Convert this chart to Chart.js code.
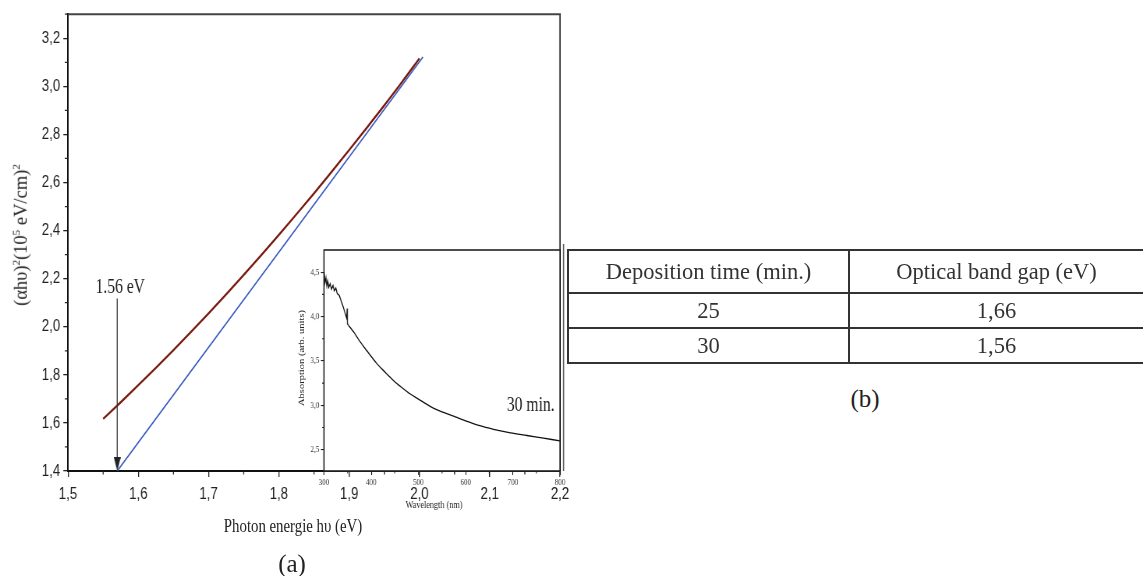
<!DOCTYPE html>
<html><head><meta charset="utf-8">
<script src="https://cdn.jsdelivr.net/npm/chart.js@4.4.1/dist/chart.umd.min.js"></script>
<style>
html,body{margin:0;padding:0;background:#fff;}
body{width:1143px;height:576px;overflow:hidden;position:relative;font-family:'Liberation Serif','Times New Roman',serif;color:#222;}
.wrap{position:absolute;transform-origin:0 0;transform:scaleX(0.78);}
#mainWrap{left:0;top:0;}
#insetWrap{left:290px;top:238px;}
.txt{position:absolute;white-space:nowrap;line-height:1;}
#ytitle{left:21px;top:235px;font-size:18.5px;transform:translate(-50%,-50%) rotate(-90deg);}
#ytitle sup{font-size:11px;vertical-align:0;position:relative;top:-7px;}
#xtitle{left:293px;top:525px;font-size:19px;transform:translate(-50%,-50%) scaleX(0.78);}
#lblA{left:292px;top:563px;font-size:25px;transform:translate(-50%,-50%);}
#lblB{left:865px;top:398px;font-size:25px;transform:translate(-50%,-50%);}
#tblBox{position:absolute;left:567px;top:249px;width:640px;}
#tbl{border-collapse:collapse;table-layout:fixed;width:620px;font-family:'Liberation Serif',serif;font-size:22.5px;color:#333;}
#tbl td{border:2px solid #333;text-align:center;padding:0;}
#tbl td span{position:relative;left:-22px;}
</style></head><body>
<div id="mainWrap" class="wrap"><canvas id="main" width="744" height="576" style="width:744px;height:576px"></canvas></div>
<div id="insetWrap" class="wrap"><canvas id="inset" width="359" height="276" style="width:359px;height:276px"></canvas></div>
<div id="ytitle" class="txt">(αhυ)<sup>2</sup>(10<sup>5</sup> eV/cm)<sup>2</sup></div>
<div id="xtitle" class="txt">Photon energie hυ (eV)</div>
<div id="lblA" class="txt">(a)</div>
<div id="lblB" class="txt">(b)</div>
<div id="tblBox">
<table id="tbl">
<colgroup><col style="width:281px"><col style="width:339px"></colgroup>
<tr style="height:43px"><td>Deposition time (min.)</td><td><span>Optical band gap (eV)</span></td></tr>
<tr style="height:35px"><td>25</td><td><span>1,66</span></td></tr>
<tr style="height:35px"><td>30</td><td><span>1,56</span></td></tr>
</table>
</div>
<script>
// ---------- data ----------
const redEnergy = [1.550,1.575,1.600,1.625,1.650,1.675,1.700,1.725,1.750,1.775,1.800,1.825,1.850,1.875,1.900,1.925,1.950,1.975,2.000];
const redValue  = [1.617,1.686,1.757,1.829,1.903,1.979,2.056,2.135,2.216,2.298,2.382,2.468,2.555,2.644,2.735,2.827,2.921,3.017,3.116];
const fitEnergy = [1.570,2.005];
const fitValue  = [1.400,3.122];
const gapEnergy = [1.570,1.570];
const gapValue  = [2.118,1.429];
const gapLabel  = '1.56 eV';

const noisyWavelength = [300,302,304,306,308,310,313,316,319,322,325,328,332,336,340,344,348,349,349.5,352];
const noisyAbsorption = [4.50,4.38,4.44,4.34,4.40,4.33,4.37,4.31,4.35,4.29,4.32,4.26,4.24,4.18,4.12,4.05,3.98,4.09,3.92,3.90];
const smoothWavelength = [352,365,376,390,412,430,447,465,482,500,518,535,553,578,603,630,659,695,730,765,800];
const smoothAbsorption = [3.90,3.81,3.72,3.62,3.47,3.37,3.28,3.20,3.13,3.07,3.01,2.96,2.92,2.87,2.82,2.77,2.73,2.69,2.66,2.63,2.60];
const insetLabel = '30 min.';

const xTicksMain = [1.5,1.6,1.7,1.8,1.9,2.0,2.1,2.2];
const yTicksMain = [1.4,1.6,1.8,2.0,2.2,2.4,2.6,2.8,3.0,3.2];
const xTicksInset = [300,400,500,600,700,800];
const yTicksInset = [2.5,3.0,3.5,4.0,4.5];

// ---------- layout ----------
const S = 0.78;
const MW = 744, MH = 576;
const IW = 359, IH = 276, IL = 290, IT = 238;
const comma = v => v.toFixed(1).replace('.', ',');
const pts = (xs, ys) => xs.map((x, i) => ({x, y: ys[i]}));
const keep = list => scale => { scale.ticks = list.map(v => ({value: v})); };

// arrow head image
const arrowImg = document.createElement('canvas');
arrowImg.width = 9; arrowImg.height = 14;
(() => { const c = arrowImg.getContext('2d'); c.fillStyle = '#222'; c.beginPath(); c.moveTo(0,0); c.lineTo(9,0); c.lineTo(4.5,14); c.closePath(); c.fill(); })();

function minorTicks(ctx, scale, vals, horizontal, len) {
  const a = scale.chart.chartArea;
  ctx.beginPath();
  vals.forEach(v => {
    const p = scale.getPixelForValue(v);
    if (horizontal) { ctx.moveTo(p, a.bottom); ctx.lineTo(p, a.bottom + len); }
    else { ctx.moveTo(a.left, p); ctx.lineTo(a.left - len, p); }
  });
  ctx.stroke();
}

const mainDecor = {
  id: 'mainDecor',
  afterDraw(chart) {
    const {ctx, chartArea: a, scales: {x, y}} = chart;
    ctx.save();
    ctx.strokeStyle = '#444'; ctx.lineWidth = 2;
    ctx.beginPath(); ctx.moveTo(a.left, a.top); ctx.lineTo(a.right, a.top); ctx.lineTo(a.right, a.bottom); ctx.stroke();
    ctx.strokeStyle = '#222'; ctx.lineWidth = 1.3;
    minorTicks(ctx, x, xTicksMain.slice(0, -1).map(v => v + 0.05), true, 3.5);
    minorTicks(ctx, y, yTicksMain.map(v => v + 0.1), false, 4);
    ctx.fillStyle = '#222';
    ctx.font = '20px "Liberation Serif", serif';
    ctx.textAlign = 'center'; ctx.textBaseline = 'alphabetic';
    ctx.fillText(gapLabel, x.getPixelForValue(gapEnergy[0]) + 3 / S, y.getPixelForValue(gapValue[0]) - 5);
    ctx.restore();
  }
};

new Chart(document.getElementById('main'), {
  type: 'scatter',
  data: { datasets: [
    { data: pts(redEnergy, redValue), showLine: true, borderColor: '#7a1c12', borderWidth: 2.3, pointRadius: 0, tension: 0.4, cubicInterpolationMode: 'monotone', order: 1 },
    { data: pts(fitEnergy, fitValue), showLine: true, borderColor: '#3b5cc2', borderWidth: 1.7, pointRadius: 0, order: 2 },
    { data: pts(gapEnergy, gapValue), showLine: true, borderColor: '#333', borderWidth: 1.3, pointRadius: [0, 7], pointStyle: arrowImg, clip: false, order: 0 }
  ]},
  options: {
    responsive: false, animation: false, devicePixelRatio: 1,
    layout: { padding: { top: 13, right: MW - 560 / S, left: 0, bottom: 0 } },
    plugins: { legend: { display: false }, tooltip: { enabled: false } },
    scales: {
      x: { type: 'linear', min: 1.5, max: 2.2, afterBuildTicks: keep(xTicksMain), afterFit: s => { s.height = MH - 471; },
           ticks: { callback: comma, font: { family: 'Liberation Sans', size: 17 }, color: '#222', padding: 7, maxRotation: 0, autoSkip: false },
           grid: { drawOnChartArea: false, tickLength: 6, color: '#222', lineWidth: 1.3 }, border: { color: '#111', width: 2 } },
      y: { type: 'linear', min: 1.4, max: 3.3, afterBuildTicks: keep(yTicksMain), afterFit: s => { s.width = 68 / S; },
           ticks: { callback: comma, font: { family: 'Liberation Sans', size: 17 }, color: '#222', padding: 4, autoSkip: false },
           grid: { drawOnChartArea: false, tickLength: 6, color: '#222', lineWidth: 1.3 }, border: { color: '#111', width: 2 } }
    }
  },
  plugins: [mainDecor]
});

const insetDecor = {
  id: 'insetDecor',
  beforeDraw(chart) {
    const {ctx, chartArea: a} = chart;
    ctx.save(); ctx.fillStyle = '#fff'; ctx.fillRect(a.left, a.top, a.right - a.left, a.bottom - a.top); ctx.restore();
  },
  afterDraw(chart) {
    const {ctx, chartArea: a, scales: {x, y}} = chart;
    ctx.save();
    ctx.strokeStyle = '#222'; ctx.lineWidth = 1.6;
    ctx.strokeRect(a.left, a.top, a.right - a.left, a.bottom - a.top);
    ctx.strokeStyle = '#555'; ctx.lineWidth = 1.6;
    ctx.beginPath(); ctx.moveTo(a.right + 3.5 / S, a.top - 6); ctx.lineTo(a.right + 3.5 / S, a.bottom); ctx.stroke();
    ctx.strokeStyle = '#222'; ctx.lineWidth = 1.1;
    minorTicks(ctx, x, xTicksInset.slice(0, -1).map(v => v + 50), true, 2.5);
    minorTicks(ctx, y, [2.75, 3.25, 3.75, 4.25], false, 2.5);
    ctx.fillStyle = '#222';
    ctx.font = '20px "Liberation Serif", serif';
    ctx.textAlign = 'center'; ctx.textBaseline = 'middle';
    ctx.fillText(insetLabel, x.getPixelForValue(738), y.getPixelForValue(3.0));
    ctx.font = '10.5px "Liberation Serif", serif';
    ctx.fillText('Wavelength (nm)', (a.left + a.right) / 2 - 8 / S, a.bottom + 34);
    ctx.translate((302 - IL) / S, 358 - IT);
    ctx.rotate(-Math.PI / 2);
    ctx.fillText('Absorption (arb. units)', 0, 0);
    ctx.restore();
  }
};

new Chart(document.getElementById('inset'), {
  type: 'scatter',
  data: { datasets: [
    { data: pts(noisyWavelength, noisyAbsorption), showLine: true, borderColor: '#111', borderWidth: 1.3, pointRadius: 0, tension: 0 },
    { data: pts(smoothWavelength, smoothAbsorption), showLine: true, borderColor: '#111', borderWidth: 1.3, pointRadius: 0, tension: 0.4, cubicInterpolationMode: 'monotone' }
  ]},
  options: {
    responsive: false, animation: false, devicePixelRatio: 1,
    layout: { padding: { top: 250 - IT, right: IW - (560 - IL) / S, left: 0, bottom: 0 } },
    plugins: { legend: { display: false }, tooltip: { enabled: false } },
    scales: {
      x: { type: 'linear', min: 300, max: 800, afterBuildTicks: keep(xTicksInset), afterFit: s => { s.height = IH - (471 - IT); },
           ticks: { callback: v => String(v), font: { family: 'Liberation Serif', size: 9 }, color: '#333', padding: 2, maxRotation: 0, autoSkip: false },
           grid: { drawOnChartArea: false, tickLength: 4, color: '#222', lineWidth: 1.1 }, border: { display: false } },
      y: { type: 'linear', min: 2.26, max: 4.75, afterBuildTicks: keep(yTicksInset), afterFit: s => { s.width = (324 - IL) / S; },
           ticks: { callback: comma, font: { family: 'Liberation Serif', size: 9 }, color: '#333', padding: 2, autoSkip: false },
           grid: { drawOnChartArea: false, tickLength: 4, color: '#222', lineWidth: 1.1 }, border: { display: false } }
    }
  },
  plugins: [insetDecor]
});
</script>
</body></html>
